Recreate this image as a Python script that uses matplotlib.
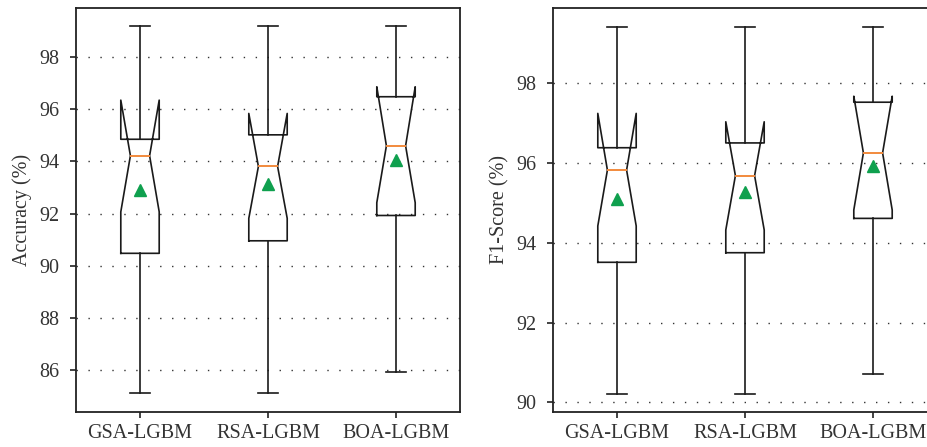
import matplotlib
matplotlib.use("Agg")
import matplotlib.pyplot as plt

categories = ["GSA-LGBM", "RSA-LGBM", "BOA-LGBM"]

# Accuracy (%) box statistics
acc_whislo = [85.11, 85.11, 85.94]
acc_q1 = [90.48, 90.96, 91.93]
acc_med = [94.22, 93.81, 94.60]
acc_q3 = [94.85, 95.02, 96.48]
acc_whishi = [99.18, 99.18, 99.18]
acc_cilo = [92.07, 91.82, 92.42]
acc_cihi = [96.35, 95.84, 96.86]
acc_mean = [92.90, 93.13, 94.04]
acc_ticks = [86, 88, 90, 92, 94, 96, 98]

# F1-Score (%) box statistics
f1_whislo = [90.22, 90.22, 90.71]
f1_q1 = [93.51, 93.75, 94.61]
f1_med = [95.82, 95.68, 96.25]
f1_q3 = [96.38, 96.50, 97.52]
f1_whishi = [99.41, 99.41, 99.41]
f1_cilo = [94.42, 94.32, 94.82]
f1_cihi = [97.24, 97.03, 97.67]
f1_mean = [95.09, 95.28, 95.93]
f1_ticks = [90, 92, 94, 96, 98]

plt.rcParams['font.family'] = ['Liberation Serif', 'DejaVu Serif']

def make_stats(lo, q1, med, q3, hi, cilo, cihi, mean):
    out = []
    for i, lab in enumerate(categories):
        out.append(dict(label=lab, whislo=lo[i], q1=q1[i], med=med[i], q3=q3[i],
                        whishi=hi[i], cilo=cilo[i], cihi=cihi[i], mean=mean[i], fliers=[]))
    return out

W, H = 927, 447
fig = plt.figure(figsize=(W / 100, H / 100), dpi=100)

ax1 = fig.add_axes([76 / W, 1 - 412 / H, 384 / W, 404 / H])
ax2 = fig.add_axes([553 / W, 1 - 412 / H, 384 / W, 404 / H])

panels = [
    (ax1, make_stats(acc_whislo, acc_q1, acc_med, acc_q3, acc_whishi, acc_cilo, acc_cihi, acc_mean),
     "Accuracy (%)", acc_ticks, (84.4, 99.88)),
    (ax2, make_stats(f1_whislo, f1_q1, f1_med, f1_q3, f1_whishi, f1_cilo, f1_cihi, f1_mean),
     "F1-Score (%)", f1_ticks, (89.76, 99.88)),
]

for ax, stats, ylabel, ticks, ylim in panels:
    ax.bxp(stats, positions=[1, 2, 3], widths=0.3, shownotches=True, showmeans=True,
           showfliers=False,
           boxprops=dict(color='#1a1a1a', linewidth=1.2),
           whiskerprops=dict(color='#1a1a1a', linewidth=1.2),
           capprops=dict(color='#1a1a1a', linewidth=1.2),
           medianprops=dict(color='#f28a3c', linewidth=1.4),
           meanprops=dict(marker='^', markerfacecolor='#0fa04e', markeredgecolor='#0fa04e',
                          markersize=9))
    ax.set_xlim(0.5, 3.5)
    ax.set_ylim(*ylim)
    ax.set_yticks(ticks)
    ax.set_yticklabels([str(t) for t in ticks])
    ax.set_xticks([1, 2, 3])
    ax.set_xticklabels(categories)
    ax.yaxis.grid(True, color='#333333', linewidth=1.0, linestyle=(0, (1, 7.6)))
    ax.set_axisbelow(True)
    ax.tick_params(axis='both', direction='out', length=4, width=1.2, colors='#222222',
                   labelsize=14.5, labelcolor='#333333')
    ax.tick_params(axis='y', pad=8)
    ax.tick_params(axis='x', pad=5)
    ax.set_ylabel(ylabel, fontsize=14.5, color='#333333', labelpad=5)
    for sp in ax.spines.values():
        sp.set_linewidth(1.3)
        sp.set_color('#222222')

fig.savefig("out.png", dpi=100)
